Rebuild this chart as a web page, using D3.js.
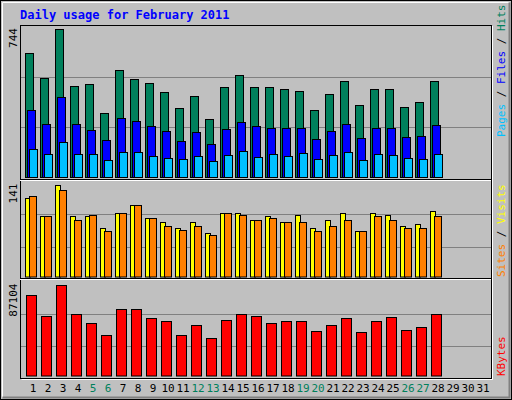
<!DOCTYPE html>
<html><head><meta charset="utf-8">
<script src="https://cdn.jsdelivr.net/npm/d3@7"></script>
<style>body{margin:0;background:#fff}svg{display:block}</style>
</head><body><svg id="c" width="512" height="400"></svg>
<script>
const days = d3.range(1, 32);
const weekends = [5,6,12,13,19,20,26,27];
const hits  = [622,496,744,456,466,320,536,491,471,426,345,406,290,451,511,451,451,441,431,335,416,481,360,441,441,350,376,481];
const files = [335,265,401,265,235,184,295,280,255,230,179,225,164,240,275,255,245,245,245,190,230,265,195,245,245,200,205,260];
const pages = [139,114,174,114,114,84,124,124,104,94,89,104,79,109,129,99,114,104,119,89,109,124,84,114,109,94,89,114];
const visits= [121,93,141,93,93,74,98,109,90,84,75,84,66,98,98,87,93,84,95,75,87,97,70,98,95,77,81,100];
const sites = [123,93,133,87,95,69,98,109,90,77,72,78,64,98,95,86,90,83,84,70,78,87,70,92,87,74,74,93];
const kbytes= [76575,57430,87104,58390,50730,39240,64130,64130,54560,51690,38290,47860,35420,53600,59340,57430,50730,51690,52640,42120,47860,54560,41160,52640,56470,44030,46900,58390];
const maxLabels = ["744","141","87104"];

const svg = d3.select("#c");
const F = "DejaVu Sans Mono, monospace";
svg.append("rect").attr("x",0).attr("y",0).attr("width",512).attr("height",400).attr("fill","#C0C0C0");
svg.append("rect").attr("x",0.5).attr("y",0.5).attr("width",511).attr("height",399).attr("fill","none").attr("stroke","#000");
svg.append("path").attr("d","M2.5,397.5V2.5H509.5").attr("fill","none").attr("stroke","#fff");
svg.append("path").attr("d","M2.5,397.5H509.5V2.5").attr("fill","none").attr("stroke","#808080").attr("stroke-width",2);

svg.append("text").attr("x",20).attr("y",19).attr("fill","#0000FF").attr("font-family",F)
  .attr("font-weight","bold").attr("font-size",12).text("Daily usage for February 2011");

// frame
const L=20, R=491;
svg.append("rect").attr("x",L+0.5).attr("y",25.5).attr("width",R-L).attr("height",353).attr("fill","none").attr("stroke","#000");
svg.append("path").attr("d",`M${L+1.5},379.5H${R+1.5}V26`).attr("fill","none").attr("stroke","#fff");

const x = d3.scaleLinear().domain([1,32]).range([25,25+15*31]);

const panels = [
  {top:29, base:177, g:[127,77], max:744, sep:180, series:[[hits,"#00805C",0,8],[files,"#0000FF",2,8],[pages,"#00C0FF",4,8]]},
  {top:184.5, base:276.5, g:[246.5,213.5], max:141, sep:279, series:[[visits,"#FFFF00",0,5],[sites,"#FF8000",4,7]]},
  {top:284.5, base:375.5, g:[346,313.5], max:87104, series:[[kbytes,"#FF0000",1,10]]}
];
panels.forEach((p,pi)=>{
  p.g.forEach(gy=>svg.append("line").attr("x1",L+1).attr("x2",R).attr("y1",Math.round(gy)+0.5).attr("y2",Math.round(gy)+0.5).attr("stroke","#808080"));
  const y = d3.scaleLinear().domain([0,p.max]).range([p.base,p.top]);
  p.series.forEach(([vals,col,off,w])=>{
    svg.append("g").selectAll("rect").data(vals).join("rect")
      .attr("x",(d,i)=>Math.round(x(i+1))+off+0.5).attr("width",w)
      .attr("y",d=>Math.round(y(d))+0.5).attr("height",d=>p.base-Math.round(y(d)))
      .attr("fill",col).attr("stroke","#000");
  });
  if(p.sep){
    svg.append("line").attr("x1",L).attr("x2",R).attr("y1",p.sep-0.5).attr("y2",p.sep-0.5).attr("stroke","#000");
    svg.append("line").attr("x1",L).attr("x2",R).attr("y1",p.sep+0.5).attr("y2",p.sep+0.5).attr("stroke","#fff");
  }
  svg.append("text").attr("transform",`translate(17,${p.top-1}) rotate(-90)`).attr("text-anchor","end")
    .attr("font-family",F).attr("font-size",11).attr("fill","#000").text(maxLabels[pi]);
});

// day labels
svg.append("g").selectAll("text").data(days).join("text")
  .attr("x",d=>x(d)+8).attr("y",392).attr("text-anchor","middle")
  .attr("font-family",F).attr("font-size",11)
  .attr("fill",d=>weekends.includes(d)?"#00805C":"#000").text(d=>d);

// right labels
function vlabel(yEnd, parts){
  const t = svg.append("text").attr("transform",`translate(505,${yEnd}) rotate(-90)`)
    .attr("font-family",F).attr("font-size",11);
  parts.forEach(([s,c])=>t.append("tspan").attr("fill",c).text(s));
}
vlabel(137,[["Pages","#00C0FF"],[" / ","#000"],["Files","#0000FF"],[" / ","#000"],["Hits","#00805C"]]);
vlabel(277,[["Sites","#FF8000"],[" / ","#000"],["Visits","#FFFF00"]]);
vlabel(376,[["KBytes","#FF0000"]]);
</script></body></html>
